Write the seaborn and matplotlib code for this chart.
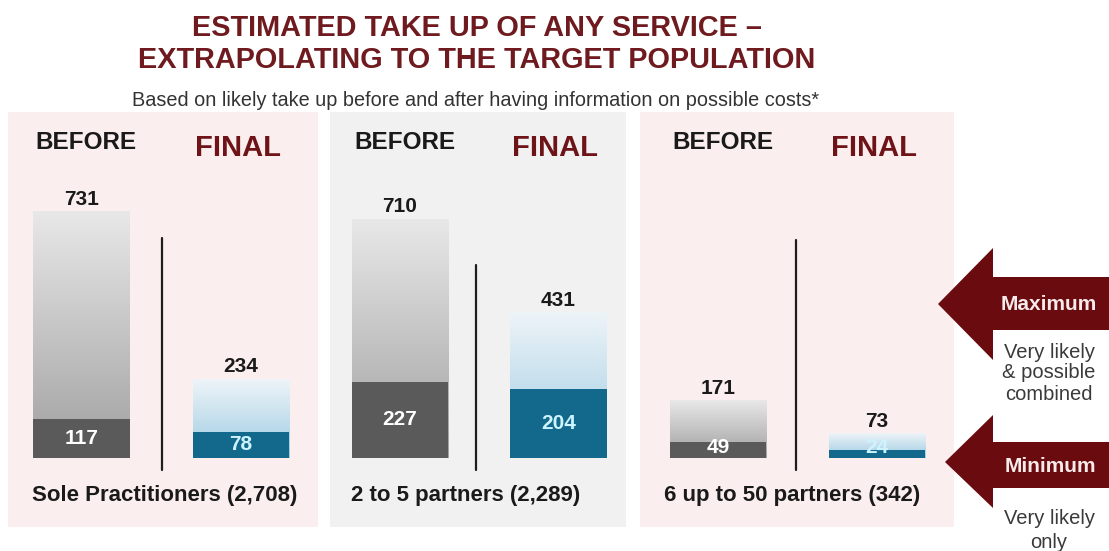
import numpy as np
import pandas as pd
import matplotlib
matplotlib.use("Agg")
import matplotlib.pyplot as plt
import seaborn as sns
from matplotlib.patches import Polygon
from matplotlib.colors import LinearSegmentedColormap

# ---- data ----
groups = ["Sole Practitioners (2,708)", "2 to 5 partners (2,289)", "6 up to 50 partners (342)"]
stages = ["BEFORE", "FINAL"]
maximum_before = [731, 710, 171]
maximum_final = [234, 431, 73]
minimum_before = [117, 227, 49]
minimum_final = [78, 204, 24]

title_lines = ["ESTIMATED TAKE UP OF ANY SERVICE \u2013", "EXTRAPOLATING TO THE TARGET POPULATION"]
subtitle = "Based on likely take up before and after having information on possible costs*"
max_note = ["Very likely", "& possible", "combined"]
min_note = ["Very likely", "only"]

sns.set_theme(style="white")
plt.rcParams["font.family"] = ["Liberation Sans", "DejaVu Sans"]

W, H = 1109, 551
fig = plt.figure(figsize=(W / 100, H / 100), dpi=100)
fig.patch.set_facecolor("white")

def rect(x0, x1, y0, y1):
    return [x0 / W, 1 - y1 / H, (x1 - x0) / W, (y1 - y0) / H]

panel_layout = [
    dict(x=(8, 318), xlim=(-0.461, 1.483), bg="#fbeeee", ltop=654, lx=0.505),
    dict(x=(330, 626), xlim=(-0.442, 1.426), bg="#f1f1f1", ltop=574, lx=0.48),
    dict(x=(640, 954), xlim=(-0.491, 1.484), bg="#fbeeee", ltop=648, lx=0.49),
]
YLIM = (-205, 1028)
BAR_W = 0.608

cmap_grey = LinearSegmentedColormap.from_list("g", ["#a0a0a0", "#e8e8e8"])
cmap_blue = LinearSegmentedColormap.from_list("b", ["#9ccbe2", "#eef4f8"])
grad = np.linspace(0, 1, 256).reshape(-1, 1)

for i, lay in enumerate(panel_layout):
    ax = fig.add_axes(rect(lay["x"][0], lay["x"][1], 112, 527))
    ax.set_facecolor(lay["bg"])
    df = pd.DataFrame({
        "stage": stages,
        "maximum": [maximum_before[i], maximum_final[i]],
        "minimum": [minimum_before[i], minimum_final[i]],
    })
    sns.barplot(data=df, x="stage", y="maximum", order=stages, width=BAR_W,
                color="white", alpha=0.0, ax=ax, zorder=1)
    max_patches = list(ax.patches)
    for p, cm in zip(max_patches, [cmap_grey, cmap_blue]):
        x0, w, h = p.get_x(), p.get_width(), p.get_height()
        ax.imshow(grad, extent=[x0, x0 + w, 0, h], origin="lower", cmap=cm,
                  aspect="auto", zorder=1.5, interpolation="bicubic")
        ax.annotate(f"{int(round(h))}", (x0 + w / 2, h), xytext=(0, 2),
                    textcoords="offset points", ha="center", va="bottom",
                    fontsize=15, fontweight="bold", color="#1a1a1a", zorder=5)
    n_before = len(ax.patches)
    sns.barplot(data=df, x="stage", y="minimum", order=stages, width=BAR_W,
                hue="stage", palette=["#5a5a5a", "#12698c"], legend=False,
                ax=ax, zorder=2, saturation=1)
    min_patches = list(ax.patches)[n_before:]
    for p, tc in zip(min_patches, ["white", "#cdf3ff"]):
        x0, w, h = p.get_x(), p.get_width(), p.get_height()
        p.set_linewidth(0)
        ax.text(x0 + w / 2, max(h / 2, 30), f"{int(round(h))}", ha="center",
                va="center", fontsize=15, fontweight="bold", color=tc, zorder=5)
    ax.set_xlim(*lay["xlim"])
    ax.set_ylim(*YLIM)
    ax.plot([lay["lx"], lay["lx"]], [-36, lay["ltop"]], color="#1e1e1e", lw=1.6, zorder=3)
    ax.text(0.03, 936, "BEFORE", ha="center", va="center", fontsize=17.5,
            fontweight="bold", color="#1a1a1a")
    ax.text(0.98, 921, "FINAL", ha="center", va="center", fontsize=21,
            fontweight="bold", color="#6e1418")
    ax.text(-0.31 if i < 2 else -0.34, -112, groups[i], ha="left", va="center",
            fontsize=16, fontweight="bold", color="#1a1a1a")
    ax.set_xlabel("")
    ax.set_ylabel("")
    ax.set_xticks([])
    ax.set_yticks([])
    for s in ax.spines.values():
        s.set_visible(False)

# overlay for titles and arrows
ov = fig.add_axes([0, 0, 1, 1])
ov.set_xlim(0, W)
ov.set_ylim(H, 0)
ov.axis("off")
ov.patch.set_alpha(0)

ov.text(476.5, 28, title_lines[0], ha="center", va="center", fontsize=20.8,
        fontweight="bold", color="#6e1a1e")
ov.text(476.5, 60, title_lines[1], ha="center", va="center", fontsize=20.8,
        fontweight="bold", color="#6e1a1e")
ov.text(476, 100, subtitle, ha="center", va="center", fontsize=14.3, color="#333333")

arrow_col = "#6a0c0f"
max_arrow = [(938, 304), (993, 248), (993, 277), (1109, 277), (1109, 330), (993, 330), (993, 360)]
min_arrow = [(945, 462), (993, 415), (993, 442), (1109, 442), (1109, 488), (993, 488), (993, 508)]
for pts in (max_arrow, min_arrow):
    ov.add_patch(Polygon(pts, closed=True, facecolor=arrow_col, edgecolor="none"))

ov.text(1049, 305, "Maximum", ha="center", va="center", fontsize=15,
        fontweight="bold", color="#f6eaea")
ov.text(1050, 467, "Minimum", ha="center", va="center", fontsize=15,
        fontweight="bold", color="#f6eaea")
for txt, yy in zip(max_note, [352, 373, 395]):
    ov.text(1049, yy, txt, ha="center", va="center", fontsize=14.5, color="#3a3a3a")
for txt, yy in zip(min_note, [518, 542]):
    ov.text(1049, yy, txt, ha="center", va="center", fontsize=14.5, color="#3a3a3a")

fig.savefig("out.png", dpi=100)
